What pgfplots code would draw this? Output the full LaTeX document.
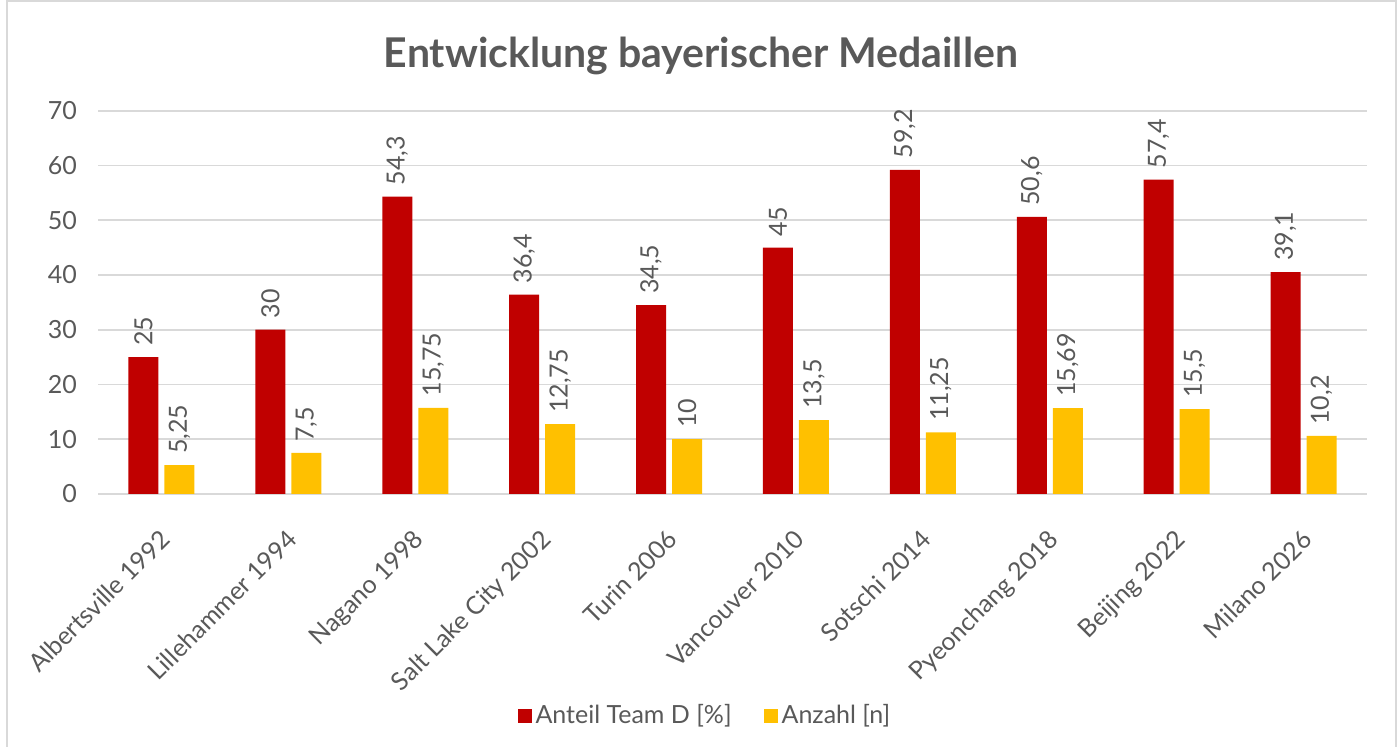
\documentclass[border=0pt]{standalone}
\usepackage{fontspec}
\setmainfont{Lato}
\usepackage{pgfplots}
\pgfplotsset{compat=1.18}

\definecolor{barred}{HTML}{C00000}
\definecolor{baryellow}{HTML}{FFC000}
\definecolor{txtgray}{HTML}{595959}
\definecolor{gridgray}{HTML}{D9D9D9}

\begin{document}
\begin{tikzpicture}
\path[use as bounding box] (0,0) rectangle (700pt,373.5pt);
\draw[gridgray, line width=0.8pt] (3.5pt,-2pt) rectangle (698pt,373pt);
\node[anchor=base, text=txtgray, font=\fontsize{20.5}{24}\selectfont\bfseries]
  at (350.5pt,339.5pt) {Entwicklung bayerischer Medaillen};
\begin{axis}[
    at={(49pt,126.5pt)}, anchor=south west,
    scale only axis,
    width=634.5pt, height=191.65pt,
    ybar=3pt,
    bar width=15pt,
    xmin=-0.5, xmax=9.5,
    ymin=0, ymax=70,
    ytick={0,10,...,70},
    xtick=data,
    xticklabels={Albertsville 1992, Lillehammer 1994, Nagano 1998, Salt Lake City 2002, Turin 2006, Vancouver 2010, Sotschi 2014, Pyeonchang 2018, Beijing 2022, Milano 2026},
    xticklabel style={rotate=45, anchor=north east, inner sep=1pt, xshift=-12pt, yshift=-10pt},
    yticklabel style={xshift=-7pt},
    ticklabel style={font=\fontsize{12.5}{14}\selectfont, text=txtgray},
    /pgf/number format/assume math mode=true,
    major tick length=0pt,
    axis line style={draw=none},
    ymajorgrids,
    grid style={gridgray, line width=0.8pt},
    nodes near coords,
    point meta=explicit symbolic,
    nodes near coords style={rotate=90, anchor=west, font=\fontsize{12.5}{14}\selectfont, text=txtgray, inner sep=5.5pt},
    legend style={at={(0.479,-0.579)}, anchor=center, draw=none, legend columns=2,
      font=\fontsize{12.5}{14}\selectfont, text=txtgray,
      /tikz/every even column/.append style={column sep=14pt}},
    legend image code/.code={\fill[#1] (0pt,-3.5pt) rectangle (7pt,3.5pt);},
    clip=false,
]
\draw[gridgray, line width=0.8pt] (axis cs:-0.5,0) -- (axis cs:9.5,0);
\addplot[fill=barred, draw=none] coordinates {
  (0,25) [25] (1,30) [30] (2,54.3) [{54,3}] (3,36.4) [{36,4}] (4,34.5) [{34,5}]
  (5,45) [45] (6,59.2) [{59,2}] (7,50.6) [{50,6}] (8,57.4) [{57,4}] (9,40.5) [{39,1}]
};
\addplot[fill=baryellow, draw=none] coordinates {
  (0,5.25) [{5,25}] (1,7.5) [{7,5}] (2,15.75) [{15,75}] (3,12.75) [{12,75}] (4,10) [10]
  (5,13.5) [{13,5}] (6,11.25) [{11,25}] (7,15.69) [{15,69}] (8,15.5) [{15,5}] (9,10.6) [{10,2}]
};
\legend{Anteil Team D [\%], Anzahl [n]}
\end{axis}
\end{tikzpicture}
\end{document}
